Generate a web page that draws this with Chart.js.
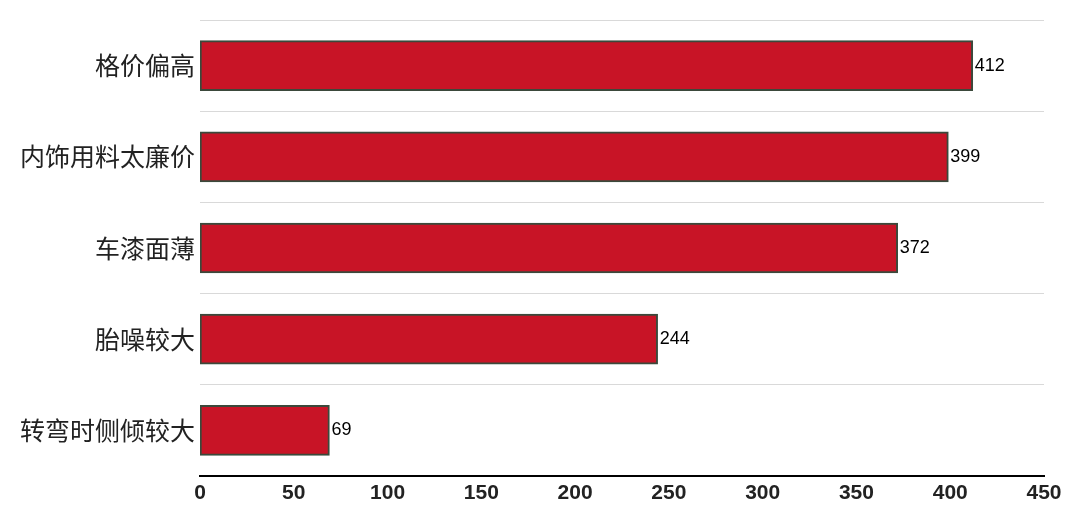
<!DOCTYPE html>
<html>
<head>
<meta charset="utf-8">
<script src="https://cdn.jsdelivr.net/npm/chart.js@4.4.1/dist/chart.umd.min.js"></script>
<style>
  html, body { margin: 0; padding: 0; background: #fff; }
  #wrap { width: 1080px; height: 520px; }
</style>
</head>
<body>
<div id="wrap"><canvas id="chart" width="1080" height="520"></canvas></div>
<script>
// complaint categories and counts
const categories = ["格价偏高", "内饰用料太廉价", "车漆面薄", "胎噪较大", "转弯时侧倾较大"];
const counts = [412, 399, 372, 244, 69];
const xTicks = [0, 50, 100, 150, 200, 250, 300, 350, 400, 450];

// draws the number just right of each bar
const valueLabels = {
  id: "valueLabels",
  afterDatasetsDraw(chart) {
    const ctx = chart.ctx;
    const meta = chart.getDatasetMeta(0);
    ctx.save();
    ctx.font = "18px 'Liberation Sans', Arial, sans-serif";
    ctx.fillStyle = "#000";
    ctx.textAlign = "left";
    ctx.textBaseline = "middle";
    meta.data.forEach((bar, i) => {
      ctx.fillText(String(counts[i]), bar.x + 2, bar.y);
    });
    ctx.restore();
  },
};

new Chart(document.getElementById("chart"), {
  type: "bar",
  data: {
    labels: categories,
    datasets: [
      {
        data: counts,
        backgroundColor: "#c81426",
        borderColor: "#3b493b",
        borderWidth: 2,
        borderSkipped: false,
        barThickness: 50,
      },
    ],
  },
  options: {
    indexAxis: "y",
    responsive: false,
    animation: false,
    layout: { padding: { top: 18, right: 36, left: 0, bottom: 0 } },
    plugins: {
      legend: { display: false },
      tooltip: { enabled: false },
    },
    scales: {
      x: {
        min: 0,
        max: 450,
        afterBuildTicks: (scale) => {
          scale.ticks = xTicks.map((v) => ({ value: v }));
        },
        afterFit: (scale) => {
          scale.height = 44;
        },
        grid: { display: false, drawTicks: false },
        border: { display: true, color: "#000", width: 2 },
        ticks: {
          padding: 5,
          color: "#222",
          font: { family: "'Liberation Sans', Arial, sans-serif", size: 21, weight: "bold" },
        },
      },
      y: {
        afterFit: (scale) => {
          scale.width = 200;
        },
        grid: {
          display: true,
          offset: true,
          color: "#d9d9d9",
          lineWidth: 1,
          drawTicks: false,
        },
        border: { display: false },
        ticks: {
          padding: 5,
          color: "#222",
          font: { family: "'Noto Sans CJK SC', sans-serif", size: 25 },
        },
      },
    },
  },
  plugins: [valueLabels],
});
</script>
</body>
</html>
